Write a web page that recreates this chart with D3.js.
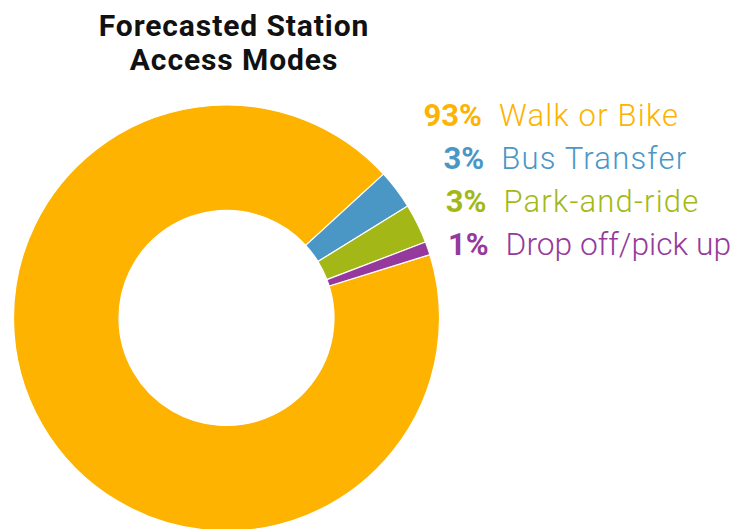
<!DOCTYPE html>
<html>
<head>
<meta charset="utf-8">
<script src="https://cdn.jsdelivr.net/npm/d3@7"></script>
<style>
  body { margin: 0; background: #fff; }
  svg { display: block; }
  text { font-family: Roboto, "Liberation Sans", sans-serif; }
</style>
</head>
<body>
<svg></svg>
<script>
// Access mode shares
var modes = ["Walk or Bike", "Bus Transfer", "Park-and-ride", "Drop off/pick up"];
var shares = [93, 3, 3, 1];
var colors = ["#fdb300", "#4a97c6", "#a3b816", "#953a9c"];
var titleLines = ["Forecasted Station", "Access Modes"];

// Layout
var svgWidth = 734,
    svgHeight = 529,
    center = [226.5, 318],
    outerRadius = 213,
    innerRadius = 107.5,
    deg = Math.PI / 180,
    startAngle = -287.3 * deg,
    legendX = 482,
    legendY = 126,
    legendStep = 43,
    labelGap = 17,
    rightLimit = svgWidth - 3;

var svg = d3.select("svg")
  .attr("width", svgWidth)
  .attr("height", svgHeight);

var pie = d3.pie()
  .sort(null)
  .value(function (d) { return d; })
  .startAngle(startAngle)
  .endAngle(startAngle + 2 * Math.PI);

var arc = d3.arc()
  .innerRadius(innerRadius)
  .outerRadius(outerRadius);

svg.append("g")
  .attr("transform", "translate(" + center + ")")
  .selectAll("path")
  .data(pie(shares))
  .enter()
    .append("path")
    .attr("d", arc)
    .style("fill", function (d, i) { return colors[i]; })
    .style("stroke", "#fff")
    .style("stroke-width", 1.2);

// Title
svg.append("g")
  .selectAll("text")
  .data(titleLines)
  .enter()
    .append("text")
    .attr("x", 234)
    .attr("y", function (d, i) { return 36 + i * 34; })
    .attr("text-anchor", "middle")
    .style("font-size", "30px")
    .style("font-weight", 700)
    .style("letter-spacing", "0.9px")
    .style("fill", "#111")
    .text(function (d) { return d; });

// Legend
var legend = svg.append("g")
  .selectAll(".legend")
  .data(modes)
  .enter()
    .append("g")
    .classed("legend", true)
    .attr("transform", function (d, i) {
      return "translate(" + [legendX + i * 2.2, legendY + i * legendStep] + ")";
    });

legend.append("text")
  .attr("text-anchor", "end")
  .style("font-size", "31px")
  .style("font-weight", 700)
  .style("fill", function (d, i) { return colors[i]; })
  .text(function (d, i) { return shares[i] + "%"; });

legend.append("text")
  .attr("x", labelGap)
  .style("font-size", "31px")
  .style("font-weight", 300)
  .style("letter-spacing", "1.2px")
  .style("fill", function (d, i) { return colors[i]; })
  .text(function (d) { return d; })
  .each(function (d, i) {
    // squeeze the long last label so it stays inside the frame
    var left = legendX + i * 2.2 + labelGap,
        room = rightLimit - left;
    if (this.getComputedTextLength() > room) {
      d3.select(this)
        .style("letter-spacing", "0px")
        .attr("textLength", room)
        .attr("lengthAdjust", "spacingAndGlyphs");
    }
  });
</script>
</body>
</html>
